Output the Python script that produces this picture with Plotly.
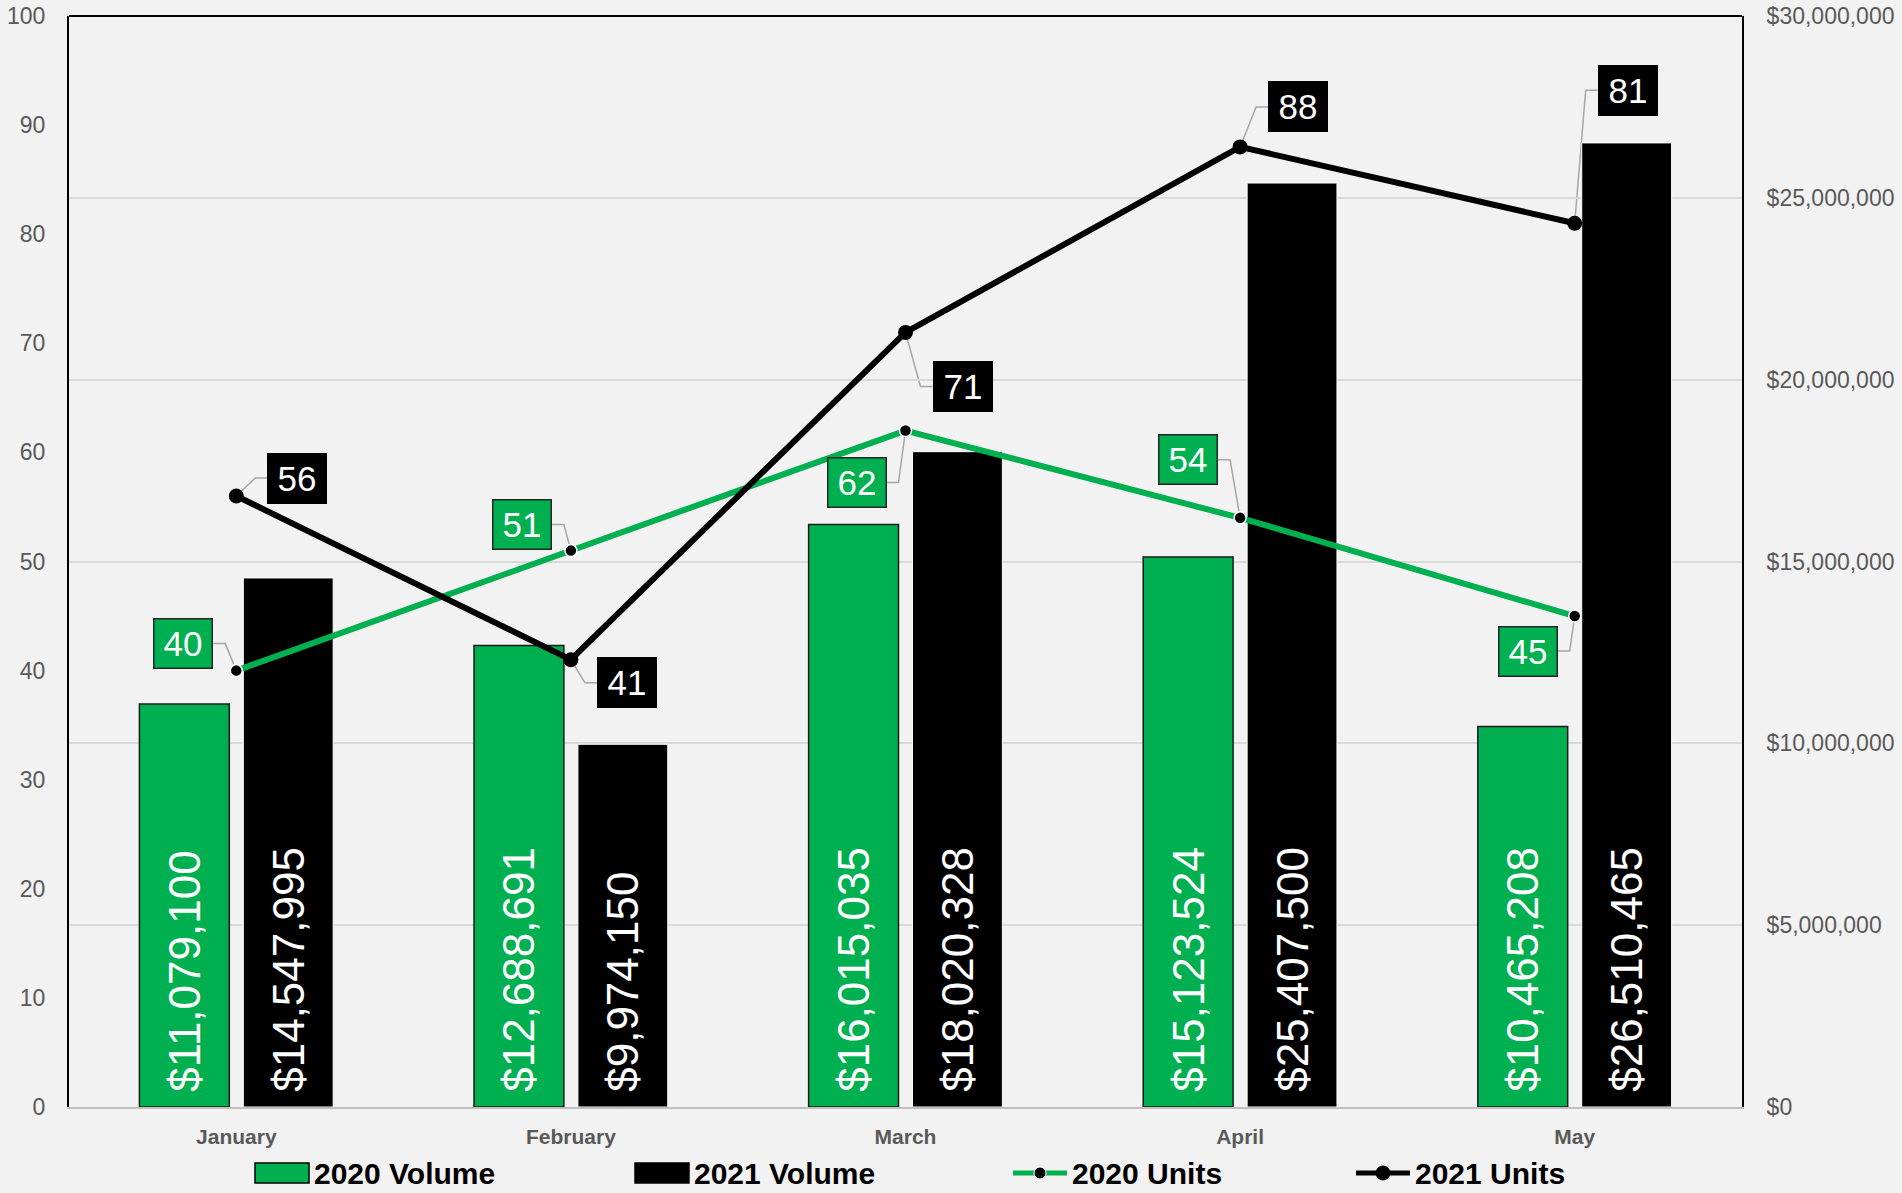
import plotly.graph_objects as go

# Monthly sales volume ($) and closed units, 2020 vs 2021
months = ["January", "February", "March", "April", "May"]
volume_2020 = [11079100, 12688691, 16015035, 15123524, 10465208]
volume_2021 = [14547995, 9974150, 18020328, 25407500, 26510465]
units_2020 = [40, 51, 62, 54, 45]
units_2021 = [56, 41, 71, 88, 81]

# Right-hand ($) and left-hand (units) axis ticks
volume_ticks = [0, 5000000, 10000000, 15000000, 20000000, 25000000, 30000000]
unit_ticks = [0, 10, 20, 30, 40, 50, 60, 70, 80, 90, 100]

GREEN = "#00B050"
BLACK = "#000000"
BG = "#F2F2F2"
AXIS_GREY = "#595959"
FONT = "Liberation Sans"

W, H = 1902, 1193
M_L, M_R, M_T, M_B = 69, 160, 16, 86
PLOT_W = W - M_L - M_R
PLOT_H = H - M_T - M_B


def paper_x(px):
    return (px - M_L) / PLOT_W


def paper_y(py):
    return (H - M_B - py) / PLOT_H


# Pixel offsets of the unit call-out boxes from their points (x right, y down)
callout_2020 = [(-53, -27), (-49, -26), (-49, 52), (-52, -58), (-47, 35)]
callout_2021 = [(61, -18), (56, 23), (57, 54), (58, -40), (53, -133)]

# volume labels sit a little above the bar base
bar_label = "\u00a0%{y:$,.0f}"

fig = go.Figure()

fig.add_trace(go.Bar(
    name="2020 Volume", x=months, y=volume_2020, yaxis="y",
    marker=dict(color=GREEN, line=dict(color="#1A1A1A", width=1.5)),
    texttemplate=bar_label, textposition="inside", insidetextanchor="start",
    textangle=-90, textfont=dict(color="white", size=44, family=FONT),
    constraintext="none", hoverinfo="skip", showlegend=False,
))
fig.add_trace(go.Bar(
    name="2021 Volume", x=months, y=volume_2021, yaxis="y",
    marker=dict(color=BLACK, line=dict(color="white", width=1)),
    texttemplate=bar_label, textposition="inside", insidetextanchor="start",
    textangle=-90, textfont=dict(color="white", size=44, family=FONT),
    constraintext="none", hoverinfo="skip", showlegend=False,
))
fig.add_trace(go.Scatter(
    name="2020 Units", x=months, y=units_2020, yaxis="y2", mode="lines+markers",
    line=dict(color=GREEN, width=6),
    marker=dict(color=BLACK, size=12, line=dict(color="white", width=1.5)),
    showlegend=False,
))
fig.add_trace(go.Scatter(
    name="2021 Units", x=months, y=units_2021, yaxis="y2", mode="lines+markers",
    line=dict(color=BLACK, width=6),
    marker=dict(color=BLACK, size=15),
    showlegend=False,
))

annotations = []
shapes = []


def add_callouts(values, offsets, fill, border):
    for i, (v, (dx, dy)) in enumerate(zip(values, offsets)):
        annotations.append(dict(
            x=months[i], y=v, xref="x", yref="y2", xshift=dx, yshift=-dy,
            text=str(v), showarrow=False,
            font=dict(color="white", size=35, family=FONT),
            bgcolor=fill, bordercolor=border, borderwidth=1.5, borderpad=0,
            width=57, height=48, align="center", valign="middle",
            xanchor="center", yanchor="middle",
        ))
        # elbow leader line from the point to the box edge
        side = 1 if dx > 0 else -1
        ex = dx - side * 42
        bx = dx - side * 30
        path = f"M0,0 L{ex},{-dy} L{bx},{-dy}"
        shapes.append(dict(
            type="path", xref="x", yref="y2", xsizemode="pixel", ysizemode="pixel",
            xanchor=i, yanchor=v, path=path, layer="below",
            line=dict(color="#A6A6A6", width=1.5),
        ))


add_callouts(units_2020, callout_2020, GREEN, "#262626")
add_callouts(units_2021, callout_2021, BLACK, BLACK)

# top edge of the plot frame
shapes.append(dict(type="line", xref="paper", yref="paper", x0=0, x1=1, y0=1, y1=1,
                   line=dict(color=BLACK, width=2), layer="above"))

# legend row beneath the month labels
LEG_Y = 1173
legend_items = [
    ("2020 Volume", "bar", GREEN, 255),
    ("2021 Volume", "bar", BLACK, 635),
    ("2020 Units", "line", GREEN, 1013),
    ("2021 Units", "line", BLACK, 1356),
]
for label, kind, color, x_start in legend_items:
    if kind == "bar":
        shapes.append(dict(type="rect", xref="paper", yref="paper",
                           x0=paper_x(x_start), x1=paper_x(x_start + 54),
                           y0=paper_y(LEG_Y + 10), y1=paper_y(LEG_Y - 10),
                           fillcolor=color, line=dict(color=BLACK, width=1.5)))
    else:
        shapes.append(dict(type="line", xref="paper", yref="paper",
                           x0=paper_x(x_start), x1=paper_x(x_start + 54),
                           y0=paper_y(LEG_Y), y1=paper_y(LEG_Y),
                           line=dict(color=color, width=5)))
        r = 7 if color == BLACK else 6
        shapes.append(dict(type="circle", xref="paper", yref="paper",
                           xsizemode="pixel", ysizemode="pixel",
                           xanchor=paper_x(x_start + 27), yanchor=paper_y(LEG_Y),
                           x0=-r, x1=r, y0=-r, y1=r, fillcolor=BLACK,
                           line=dict(color="white" if color == GREEN else BLACK, width=1)))
    annotations.append(dict(
        x=paper_x(x_start + 57), y=paper_y(LEG_Y), xref="paper", yref="paper",
        text=label, showarrow=False, xanchor="left", yanchor="middle",
        font=dict(size=30, color=BLACK, family=FONT, weight="bold"),
    ))

fig.update_layout(
    width=W, height=H, autosize=False,
    margin=dict(l=M_L, r=M_R, t=M_T, b=M_B, autoexpand=False),
    paper_bgcolor=BG, plot_bgcolor=BG,
    font=dict(family=FONT),
    barmode="group", bargap=0.379, bargroupgap=0.135,
    showlegend=False,
    xaxis=dict(type="category", range=[-0.5, len(months) - 0.5], showgrid=False,
               showline=True, linecolor="#BFBFBF", linewidth=2, automargin=False,
               ticks="outside", ticklen=10, tickcolor="rgba(0,0,0,0)",
               tickfont=dict(size=21, color=AXIS_GREY, weight="bold"), zeroline=False),
    yaxis=dict(side="right", range=[0, 30000000], tickvals=volume_ticks,
               tickformat="$,.0f", showgrid=True, gridcolor="#D9D9D9", gridwidth=2,
               showline=True, linecolor=BLACK, linewidth=2, mirror=True, automargin=False,
               ticks="outside", ticklen=18, tickcolor="rgba(0,0,0,0)",
               tickfont=dict(size=23, color=AXIS_GREY), zeroline=False),
    yaxis2=dict(overlaying="y", side="left", range=[0, 100], tickvals=unit_ticks,
                showgrid=False, showline=False, zeroline=False, automargin=False,
                ticks="outside", ticklen=18, tickcolor="rgba(0,0,0,0)",
                tickfont=dict(size=23, color=AXIS_GREY)),
    annotations=annotations,
    shapes=shapes,
)

fig.write_html("out.html")
